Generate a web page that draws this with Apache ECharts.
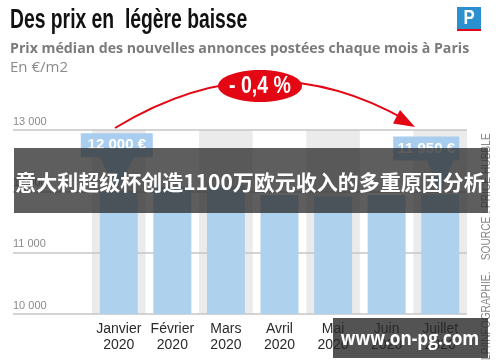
<!DOCTYPE html>
<html><head><meta charset="utf-8">
<script src="https://cdn.jsdelivr.net/npm/echarts@6/dist/echarts.min.js"></script>
<style>html,body{margin:0;padding:0;background:#fff}#c{width:500px;height:362px}</style>
</head><body><div id="c"></div>
<script>
const months = ['Janvier', 'Février', 'Mars', 'Avril', 'Mai', 'Juin', 'Juillet'];
const year = '2020';
const categories = months.map(m => m + '\n' + year);
const prices = [12000, 12080, 12100, 11940, 11910, 11940, 11950];
const yMin = 10000, yMax = 13000, yStep = 1000;
const calloutFirst = '12 000 €';
const calloutLast = '11 950 €';
const changeLabel = '- 0,4 %';
const titleText = 'Des prix en  légère baisse';
const subtitleText = 'Prix médian des nouvelles annonces postées chaque mois à Paris';
const unitText = 'En €/m2';
const sourceText = 'LP/INFOGRAPHIE.    SOURCE : PRICE HUBBLE';
const bannerText = '意大利超级杯创造1100万欧元收入的多重原因分析';
const watermarkText = 'www.on-pg.com';

const SANS = '"Liberation Sans", Arial, sans-serif';
const RED = '#e30613';
const fmt = v => String(v).replace(/\B(?=(\d{3})+(?!\d))/g, ' ');

const chart = echarts.init(document.getElementById('c'), null, {renderer: 'canvas'});
const last = prices.length - 1;
chart.setOption({
  animation: false,
  backgroundColor: '#fff',
  grid: [
    {left: 92, right: 33, top: 130, bottom: 48},
    {left: 13, right: 33, top: 130, bottom: 48}
  ],
  xAxis: [
    {type: 'category', gridIndex: 0, data: categories, z: 0,
     axisLine: {show: false}, axisTick: {show: false},
     axisLabel: {interval: 0, margin: 7, color: '#2a2a2a', fontFamily: SANS, fontSize: 14, lineHeight: 16},
     splitArea: {show: true, interval: 0, areaStyle: {color: ['#ebebeb', 'rgba(255,255,255,0)']}}},
    {type: 'value', gridIndex: 1, show: false, min: 0, max: 1}
  ],
  yAxis: [
    {type: 'value', gridIndex: 0, min: yMin, max: yMax, interval: yStep, show: false},
    {type: 'value', gridIndex: 1, min: yMin, max: yMax, interval: yStep, z: 1,
     axisLine: {show: false}, axisTick: {show: false},
     splitLine: {show: true, lineStyle: {color: '#c6c6c6', width: 1.5}},
     axisLabel: {inside: true, margin: 0, verticalAlign: 'bottom', padding: [0, 0, 3, 0],
       color: '#8a8a8a', fontFamily: SANS, fontSize: 11, formatter: fmt}}
  ],
  series: [{
    type: 'bar', xAxisIndex: 0, yAxisIndex: 0, data: prices, barWidth: 38, z: 2,
    itemStyle: {color: '#aed2ee'},
    markPoint: {
      silent: true,
      itemStyle: {color: '#a9cdee'},
      label: {show: true, position: 'inside', offset: [0, -17], color: '#fff', fontWeight: 'bold',
              fontFamily: SANS, fontSize: 15},
      data: [
        {coord: [0, prices[0]], symbol: 'path://M0,0L72,0L72,24L53,24L36,58L19,24L0,24Z',
         symbolSize: [72, 58], symbolOffset: [-2, -29], label: {formatter: calloutFirst}},
        {coord: [last, prices[last]], symbol: 'path://M0,0L66,0L66,24L60,24L47,58L34,24L0,24Z',
         symbolSize: [66, 58], symbolOffset: [-14, -29], label: {formatter: calloutLast}}
      ]
    }
  }],
  graphic: [
    {type: 'text', x: 10, y: 6, z: 10, scaleX: 0.69,
     style: {text: titleText, fill: '#111', font: 'bold 28px ' + SANS}},
    {type: 'text', x: 10, y: 41, z: 10, scaleX: 0.945,
     style: {text: subtitleText, fill: '#7b7b7b', font: 'bold 15px "Open Sans", sans-serif'}},
    {type: 'text', x: 10, y: 60, z: 10,
     style: {text: unitText, fill: '#8a8a8a', font: '15px "Open Sans", sans-serif'}},
    {type: 'rect', z: 10, shape: {x: 457, y: 7, width: 24, height: 22}, style: {fill: '#2b90d0'}},
    {type: 'rect', z: 10, shape: {x: 457, y: 29, width: 24, height: 2}, style: {fill: RED}},
    {type: 'text', x: 469, y: 18, z: 11, scaleX: 0.8,
     style: {text: 'P', fill: '#fff', font: 'bold 21px ' + SANS, textAlign: 'center', textVerticalAlign: 'middle'}},
    {type: 'bezierCurve', z: 10, shape: {x1: 115, y1: 128, x2: 406, y2: 120, cpx1: 262, cpy1: 38},
     style: {stroke: RED, lineWidth: 2, fill: null}},
    {type: 'polygon', z: 10, shape: {points: [[415, 127], [393, 123.5], [400, 110]]}, style: {fill: RED}},
    {type: 'ellipse', z: 10, shape: {cx: 260, cy: 86, rx: 42, ry: 16}, style: {fill: RED}},
    {type: 'text', x: 260, y: 87, z: 11, scaleX: 0.85,
     style: {text: changeLabel, fill: '#fff', font: 'bold 23px ' + SANS, textAlign: 'center', textVerticalAlign: 'middle'}},
    {type: 'text', x: 487, y: 360, z: 10, rotation: Math.PI / 2, scaleX: 0.85,
     style: {text: sourceText, fill: '#8a8a8a', font: '12px ' + SANS, textAlign: 'left', textVerticalAlign: 'middle'}},
    {type: 'rect', z: 50, shape: {x: 14, y: 148, width: 474, height: 65}, style: {fill: 'rgba(40,40,40,0.75)'}},
    {type: 'text', x: 250, y: 182, z: 51,
     style: {text: bannerText, fill: '#fff', font: 'bold 21px "Noto Sans CJK SC", sans-serif', textAlign: 'center', textVerticalAlign: 'middle'}},
    {type: 'rect', z: 50, shape: {x: 333, y: 318, width: 155, height: 40}, style: {fill: 'rgba(40,40,40,0.8)'}},
    {type: 'text', x: 410, y: 339, z: 51, scaleX: 0.86,
     style: {text: watermarkText, fill: '#fff', font: 'bold 20px "Open Sans", sans-serif', textAlign: 'center', textVerticalAlign: 'middle'}}
  ]
});
</script></body></html>
